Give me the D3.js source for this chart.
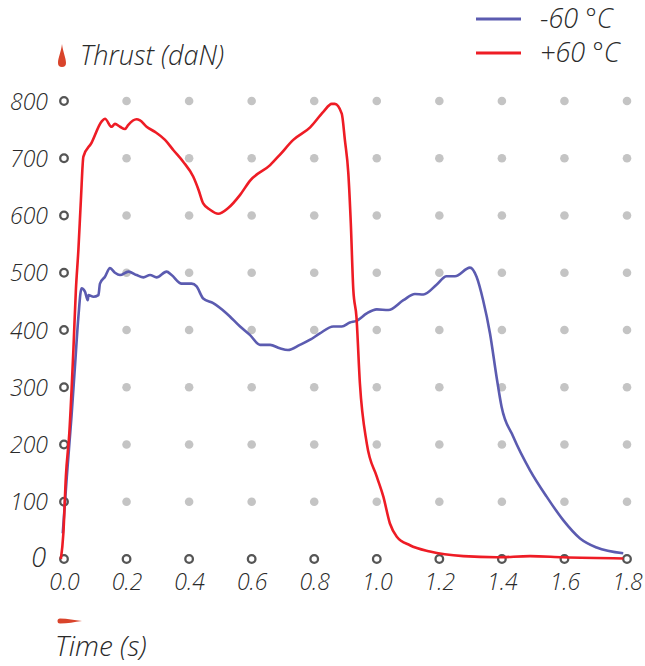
<!DOCTYPE html>
<html><head><meta charset="utf-8">
<script src="https://cdn.jsdelivr.net/npm/d3@7"></script>
<style>body{margin:0;background:#fff}svg text{font-family:"Open Sans","Noto Sans",sans-serif;font-style:italic;font-weight:300;fill:#2a2a2a}</style>
</head><body><svg id="c" width="645" height="666"></svg>
<script>
const xTicks = [0,0.2,0.4,0.6,0.8,1.0,1.2,1.4,1.6,1.8];
const xTickLabels = ["0.0","0.2","0.4","0.6","0.8","1.0","1.2","1.4","1.6","1.8"];
const yTicks = [0,100,200,300,400,500,600,700,800];
const seriesNames = ["-60 °C","+60 °C"];
const seriesColors = ["#5b5bb0","#ee1c25"];
const coldT = [-0.004,0.009,0.024,0.035,0.046,0.056,0.067,0.076,0.078,0.094,0.11,0.115,0.131,0.147,0.163,0.179,0.206,0.232,0.254,0.275,0.296,0.328,0.344,0.376,0.408,0.424,0.445,0.477,0.52,0.563,0.595,0.627,0.659,0.69,0.716,0.754,0.787,0.818,0.861,0.888,0.914,0.935,0.968,1.0,1.037,1.085,1.122,1.149,1.191,1.223,1.25,1.298,1.319,1.34,1.362,1.383,1.399,1.436,1.49,1.543,1.596,1.65,1.703,1.788];
const coldV = [45,144,249,336,423,473,467,452,461,458,461,481,493,508,500,496,502,496,492,496,492,502,496,481,481,476,455,447,429,406,391,374,374,368,365,374,383,394,406,406,413,416,429,436,435,452,463,462,479,494,494,509,493,452,394,318,266,214,155,109,68,36,20,10];
const hotT = [-0.01,-0.002,0.006,0.017,0.03,0.038,0.046,0.054,0.062,0.088,0.12,0.131,0.152,0.163,0.179,0.195,0.205,0.232,0.243,0.264,0.291,0.323,0.35,0.381,0.413,0.43,0.445,0.467,0.493,0.525,0.563,0.595,0.659,0.69,0.733,0.787,0.829,0.856,0.866,0.888,0.898,0.909,0.917,0.925,0.935,0.946,0.968,1.0,1.021,1.042,1.064,1.106,1.17,1.277,1.383,1.49,1.596,1.788];
const hotV = [0,45,144,220,365,470,540,627,703,727,764,769,755,760,755,751,758,768,766,755,746,732,714,694,668,645,621,610,603,613,636,661,688,706,732,754,781,795,795,778,732,674,586,470,423,307,202,144,109,62,39,24,13,5,3,5,3,1];

const svg = d3.select("#c");
const x = d3.scaleLinear().domain([0,1.8]).range([64,627]);
const y = d3.scaleLinear().domain([0,800]).range([559,101]);

// grid dots
const g = svg.append("g");
xTicks.forEach((tx,i)=>{
  yTicks.forEach(ty=>{
    if(i===0 || ty===0){
      g.append("circle").attr("cx",x(tx)).attr("cy",y(ty)).attr("r",3.8)
        .attr("fill","#fff").attr("stroke","#555").attr("stroke-width",2.3);
    } else {
      g.append("circle").attr("cx",x(tx)).attr("cy",y(ty)).attr("r",4.3).attr("fill","#c4c4c4");
    }
  });
});

// axes via d3 axis generators (labels only)
const yAxis = d3.axisLeft(y).tickValues(yTicks.filter(d=>d>0)).tickSize(0).tickPadding(0);
const ya = svg.append("g").attr("transform","translate(48,0)").call(yAxis);
ya.select(".domain").remove();
ya.selectAll("text").attr("font-size",23).attr("dy","0.35em").style("font-family",null);
svg.append("text").attr("x",46).attr("y",y(0)).attr("dy","0.3em").attr("text-anchor","end").attr("font-size",27).text("0");

const xAxis = d3.axisBottom(x).tickValues(xTicks).tickFormat((d,i)=>xTickLabels[i]).tickSize(0).tickPadding(0);
const xa = svg.append("g").attr("transform","translate(0,574)").call(xAxis);
xa.select(".domain").remove();
xa.selectAll("text").attr("font-size",23).attr("dy","0.71em").style("font-family",null);

// lines
const line = d3.line().x(d=>x(d[0])).y(d=>y(d[1])).curve(d3.curveMonotoneX);
const cold = coldT.map((t,i)=>[t,coldV[i]]);
const hot = hotT.map((t,i)=>[t,hotV[i]]);
svg.append("path").attr("d",line(cold)).attr("fill","none").attr("stroke",seriesColors[0]).attr("stroke-width",2.6).attr("stroke-linejoin","round");
svg.append("path").attr("d",line(hot)).attr("fill","none").attr("stroke",seriesColors[1]).attr("stroke-width",2.6).attr("stroke-linejoin","round");

// axis titles with markers
svg.append("path").attr("d","M62,44 C63,52 66,58 66,63 A4,4 0 0 1 58,63 C58,58 61,52 62,44 Z").attr("fill","#d9442b");
svg.append("text").attr("x",80).attr("y",65).attr("font-size",27).text("Thrust (daN)");
svg.append("path").attr("d","M82,621 C74,620 68,618.5 60,618.5 A2.5,2.5 0 0 0 60,623.5 C68,623.5 74,622 82,621 Z").attr("fill","#d9442b");
svg.append("text").attr("x",55).attr("y",656).attr("font-size",28).text("Time (s)");

// legend
seriesNames.forEach((n,i)=>{
  const ly = 19 + i*34;
  svg.append("line").attr("x1",476).attr("x2",521).attr("y1",ly).attr("y2",ly).attr("stroke",seriesColors[i]).attr("stroke-width",3);
  svg.append("text").attr("x",540).attr("y",ly+9).attr("font-size",27).text(n);
});
</script></body></html>
